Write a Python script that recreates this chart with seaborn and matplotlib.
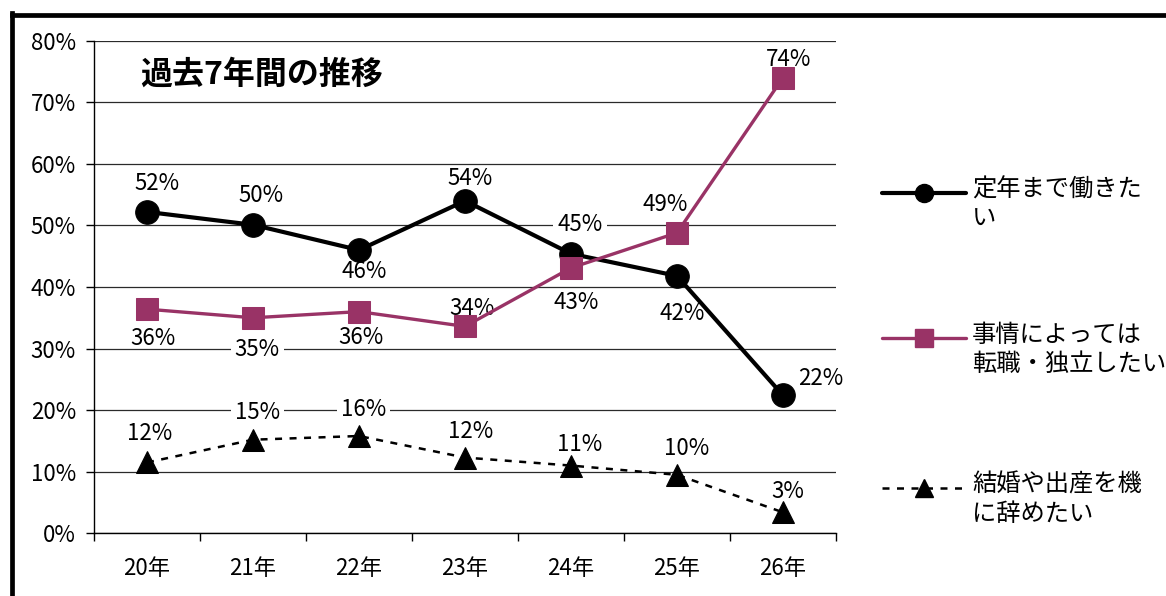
import matplotlib
matplotlib.use("Agg")
import matplotlib.pyplot as plt
import seaborn as sns
from matplotlib.lines import Line2D
from matplotlib.path import Path

# ---- data -------------------------------------------------------------
years = ["20年", "21年", "22年", "23年", "24年", "25年", "26年"]
work_until_retirement = [52.2, 50.1, 46.0, 54.0, 45.4, 41.8, 22.4]
change_or_independent = [36.4, 35.0, 36.0, 33.6, 43.1, 48.8, 74.0]
quit_on_marriage = [11.5, 15.2, 15.8, 12.3, 11.0, 9.5, 3.4]
legend_labels = ["定年まで働きた\nい", "事情によっては\n転職・独立したい", "結婚や出産を機\nに辞めたい"]
y_ticks = [0, 10, 20, 30, 40, 50, 60, 70, 80]
title_text = "過去7年間の推移"

# ---- label offsets (points) -------------------------------------------
off_work = [(7, 22), (6, 23), (4, -14), (4, 18), (6.5, 23), (3.5, -25), (27, 14)]
off_change = [(4, -19), (3, -21), (1.5, -17), (5, 15), (4, -23), (-8.5, 22), (4, 15)]
off_quit = [(2, 23), (3.5, 21.5), (3.5, 21), (4, 20.5), (6, 17), (7, 20.5), (3.5, 16.5)]

PLUM = "#993366"
W, H = 1166, 596

sns.set_theme(style="white")
plt.rcParams["font.family"] = ["Noto Sans CJK JP", "DejaVu Sans"]


def label_box(x0, y0, width, height, mutation_size):
    """White backing trimmed to the digit height, a little wider than the text."""
    padx = 0.18 * mutation_size
    bottom = y0 + 0.16 * mutation_size
    top = y0 + height - 0.30 * mutation_size
    left, right = x0 - padx, x0 + width + padx
    return Path([(left, bottom), (right, bottom), (right, top), (left, top), (left, bottom)],
                closed=True)


fig = plt.figure(figsize=(W / 100, H / 100), dpi=100)
fig.patch.set_facecolor("white")
ax = fig.add_axes([94 / W, 1 - 533.3 / H, (836 - 94) / W, (533.3 - 40.7) / H])

series = [
    dict(values=work_until_retirement, offsets=off_work,
         style=dict(color="black", marker="o", markersize=17, linewidth=3.0,
                    markeredgecolor="black", markerfacecolor="black")),
    dict(values=change_or_independent, offsets=off_change,
         style=dict(color=PLUM, marker="s", markersize=16, linewidth=2.4,
                    markeredgecolor=PLUM, markerfacecolor=PLUM)),
    dict(values=quit_on_marriage, offsets=off_quit,
         style=dict(color="black", marker="^", markersize=16, linewidth=1.8,
                    linestyle=(0, (2.8, 3.0)),
                    markeredgecolor="black", markerfacecolor="black")),
]

for s in series:
    sns.lineplot(x=years, y=s["values"], ax=ax, sort=False, legend=False,
                 zorder=3, **s["style"])

# value labels with white backing that breaks the gridlines
for s in series:
    for i, (v, off) in enumerate(zip(s["values"], s["offsets"])):
        ax.annotate(f"{v:.0f}%", xy=(i, v), xytext=off, textcoords="offset points",
                    ha="center", va="center_baseline", fontsize=16, color="black",
                    bbox=dict(boxstyle=label_box, fc="white", ec="none"),
                    zorder=2.5)

# ---- axes styling ------------------------------------------------------
ax.set_xlim(-0.5, len(years) - 0.5)
ax.set_ylim(0, 80)
ax.set_yticks(y_ticks)
ax.set_yticklabels([f"{t}%" for t in y_ticks])
ax.set_xticks(range(len(years)))
ax.set_xticklabels(years)
ax.set_xticks([i - 0.5 for i in range(len(years) + 1)], minor=True)
ax.set_xlabel("")
ax.set_ylabel("")

ax.yaxis.grid(True, color="#2a2a2a", linewidth=0.9, zorder=0.5)
ax.xaxis.grid(False)
ax.set_axisbelow(True)

for side in ["top", "right"]:
    ax.spines[side].set_visible(False)
for side in ["left", "bottom"]:
    ax.spines[side].set_visible(True)
    ax.spines[side].set_color("black")
    ax.spines[side].set_linewidth(1.0)

ax.tick_params(axis="x", which="major", length=0, pad=17, labelsize=16, labelcolor="black")
ax.tick_params(axis="x", which="minor", bottom=True, length=6, width=1, color="black", direction="out")
ax.tick_params(axis="y", which="major", left=True, length=6, width=1, color="black",
               direction="out", pad=7, labelsize=16, labelcolor="black")

# ---- title -------------------------------------------------------------
fig.text(140 / W, 1 - 75 / H, title_text, ha="left", va="center",
         fontsize=23, fontweight="bold", color="black")

# ---- legend (handle level with the first text line) --------------------
legend_y = [193, 338, 488]
for s, lab, y in zip(series, legend_labels, legend_y):
    st = dict(s["style"])
    st["markersize"] = 13
    yf = 1 - y / H
    fig.add_artist(Line2D([882 / W, 966 / W], [yf, yf], transform=fig.transFigure,
                          color=st["color"], linewidth=st["linewidth"],
                          linestyle=st.get("linestyle", "-")))
    fig.add_artist(Line2D([924 / W], [yf], transform=fig.transFigure,
                          marker=st["marker"], markersize=st["markersize"],
                          markerfacecolor=st["markerfacecolor"],
                          markeredgecolor=st["markeredgecolor"], linestyle="none"))
    fig.text(972 / W, 1 - (y - 16) / H, lab, ha="left", va="top",
             fontsize=17.5, color="black", linespacing=1.15)

# ---- outer frame -------------------------------------------------------
fig.add_artist(Line2D([12 / W, 12 / W], [0, 1 - 13 / H], transform=fig.transFigure,
                      color="black", linewidth=3.4, solid_capstyle="projecting"))
fig.add_artist(Line2D([12 / W, 1], [1 - 15 / H, 1 - 15 / H], transform=fig.transFigure,
                      color="black", linewidth=3.4, solid_capstyle="projecting"))

fig.savefig("out.png", dpi=100, facecolor="white")
